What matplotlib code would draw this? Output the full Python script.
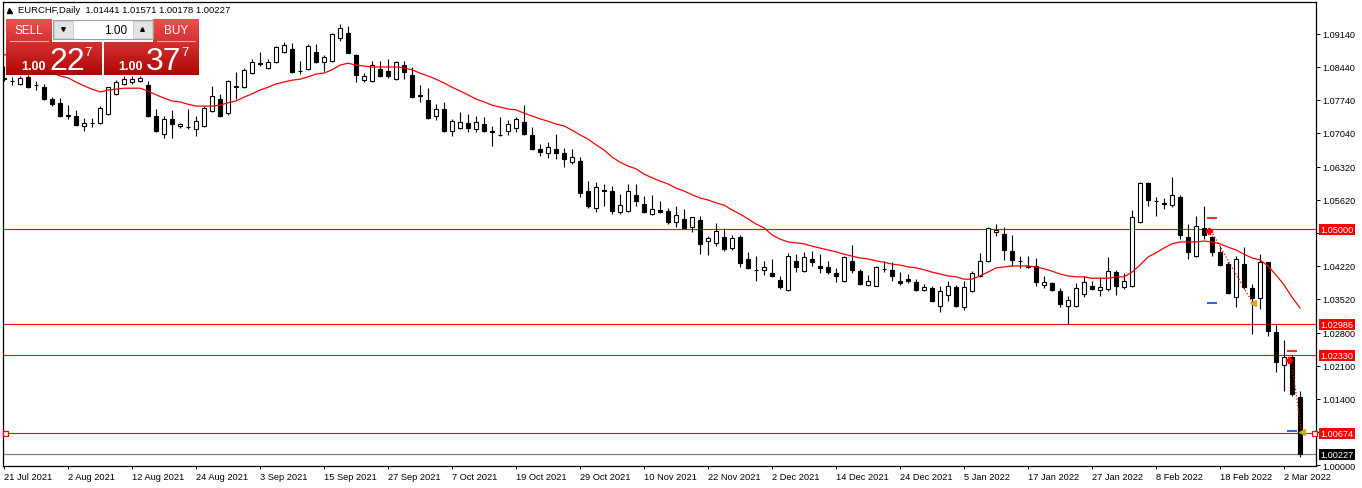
import numpy as np
import matplotlib
matplotlib.use("Agg")
import matplotlib.pyplot as plt
from matplotlib.transforms import blended_transform_factory
from matplotlib.patches import Rectangle

plt.rcParams['font.family'] = ['Liberation Sans', 'DejaVu Sans']

# ---------------- data ----------------
symbol = "EURCHF,Daily"
header_ohlc = "1.01441 1.01571 1.00178 1.00227"

date_labels = ["21 Jul 2021", "2 Aug 2021", "12 Aug 2021", "24 Aug 2021", "3 Sep 2021",
               "15 Sep 2021", "27 Sep 2021", "7 Oct 2021", "19 Oct 2021", "29 Oct 2021",
               "10 Nov 2021", "22 Nov 2021", "2 Dec 2021", "14 Dec 2021", "24 Dec 2021",
               "5 Jan 2022", "17 Jan 2022", "27 Jan 2022", "8 Feb 2022", "18 Feb 2022",
               "2 Mar 2022"]
date_label_bars = [0, 8, 16, 24, 32, 40, 48, 56, 64, 72, 80, 88, 96, 104, 112,
                   120, 128, 136, 144, 152, 160]

price_ticks = [1.09140, 1.08440, 1.07740, 1.07040, 1.06320, 1.05620, 1.04920,
               1.04220, 1.03520, 1.02800, 1.02100, 1.01400, 1.00700, 1.00000]
# tick labels hidden behind the level boxes in the reference
hidden_tick_labels = [1.04920, 1.00700]

level_lines = [1.05000, 1.02986, 1.02330, 1.00674]
bid_price = 1.00227

opens = [1.0821, 1.0814, 1.0808, 1.0823, 1.0806, 1.0801, 1.0776, 1.0768, 1.0742, 1.0740,
         1.0719, 1.0725, 1.0725, 1.0744, 1.0787, 1.0808, 1.0812, 1.0814, 1.0806, 1.0740,
         1.0702, 1.0734, 1.0719, 1.0717, 1.0712, 1.0719, 1.0751, 1.0776, 1.0746, 1.0801,
         1.0801, 1.0831, 1.0852, 1.0842, 1.0854, 1.0876, 1.0882, 1.0835, 1.0840, 1.0876,
         1.0854, 1.0857, 1.0905, 1.0916, 1.0869, 1.0816, 1.0814, 1.0840, 1.0835, 1.0818,
         1.0848, 1.0827, 1.0785, 1.0774, 1.0740, 1.0755, 1.0708, 1.0715, 1.0725, 1.0712,
         1.0723, 1.0708, 1.0700, 1.0708, 1.0715, 1.0727, 1.0700, 1.0670, 1.0662, 1.0670,
         1.0662, 1.0642, 1.0645, 1.0581, 1.0545, 1.0583, 1.0581, 1.0536, 1.0539, 1.0572,
         1.0553, 1.0532, 1.0541, 1.0539, 1.0515, 1.0522, 1.0505, 1.0520, 1.0475, 1.0471,
         1.0483, 1.0460, 1.0483, 1.0437, 1.0414, 1.0414, 1.0407, 1.0392, 1.0371, 1.0433,
         1.0411, 1.0437, 1.0422, 1.0420, 1.0407, 1.0390, 1.0433, 1.0411, 1.0382, 1.0380,
         1.0416, 1.0414, 1.0390, 1.0394, 1.0388, 1.0371, 1.0375, 1.0337, 1.0361, 1.0377,
         1.0335, 1.0369, 1.0401, 1.0433, 1.0494, 1.0490, 1.0454, 1.0433, 1.0420, 1.0422,
         1.0382, 1.0386, 1.0369, 1.0337, 1.0337, 1.0363, 1.0380, 1.0371, 1.0373, 1.0409,
         1.0377, 1.0380, 1.0515, 1.0598, 1.0560, 1.0555, 1.0551, 1.0568, 1.0483, 1.0443,
         1.0502, 1.0483, 1.0452, 1.0426, 1.0356, 1.0426, 1.0375, 1.0354, 1.0430, 1.0282,
         1.0212, 1.0229, 1.01441]

highs = [1.0846, 1.0823, 1.0825, 1.0827, 1.0814, 1.0808, 1.0780, 1.0778, 1.0763, 1.0753,
         1.0736, 1.0736, 1.0761, 1.0802, 1.0816, 1.0825, 1.0825, 1.0825, 1.0814, 1.0755,
         1.0740, 1.0753, 1.0725, 1.0755, 1.0740, 1.0761, 1.0804, 1.0787, 1.0816, 1.0833,
         1.0842, 1.0861, 1.0876, 1.0861, 1.0888, 1.0897, 1.0895, 1.0857, 1.0893, 1.0893,
         1.0869, 1.0916, 1.0935, 1.0931, 1.0871, 1.0831, 1.0857, 1.0857, 1.0861, 1.0857,
         1.0857, 1.0844, 1.0806, 1.0799, 1.0765, 1.0770, 1.0734, 1.0748, 1.0744, 1.0740,
         1.0738, 1.0719, 1.0738, 1.0732, 1.0738, 1.0763, 1.0717, 1.0681, 1.0685, 1.0702,
         1.0672, 1.0670, 1.0653, 1.0602, 1.0600, 1.0596, 1.0592, 1.0575, 1.0596, 1.0596,
         1.0570, 1.0572, 1.0560, 1.0545, 1.0549, 1.0543, 1.0526, 1.0528, 1.0486, 1.0513,
         1.0502, 1.0488, 1.0488, 1.0452, 1.0443, 1.0433, 1.0437, 1.0401, 1.0450, 1.0447,
         1.0452, 1.0454, 1.0447, 1.0433, 1.0418, 1.0443, 1.0466, 1.0416, 1.0403, 1.0422,
         1.0433, 1.0430, 1.0409, 1.0405, 1.0394, 1.0384, 1.0379, 1.0380, 1.0390, 1.0382,
         1.0390, 1.0411, 1.0450, 1.0505, 1.0511, 1.0505, 1.0488, 1.0443, 1.0443, 1.0439,
         1.0401, 1.0387, 1.0375, 1.0358, 1.0386, 1.0401, 1.0390, 1.0399, 1.0441, 1.0413,
         1.0407, 1.0541, 1.0600, 1.0600, 1.0568, 1.0566, 1.0611, 1.0572, 1.0511, 1.0528,
         1.0549, 1.0486, 1.0464, 1.0430, 1.0443, 1.0462, 1.0384, 1.0447, 1.0431, 1.0297,
         1.0265, 1.0233, 1.01571]

lows = [1.0814, 1.0806, 1.0806, 1.0799, 1.0795, 1.0774, 1.0761, 1.0738, 1.0734, 1.0719,
        1.0708, 1.0717, 1.0723, 1.0743, 1.0785, 1.0806, 1.0808, 1.0812, 1.0738, 1.0706,
        1.0693, 1.0693, 1.0715, 1.0712, 1.0698, 1.0717, 1.0748, 1.0738, 1.0742, 1.0776,
        1.0799, 1.0829, 1.0846, 1.0840, 1.0852, 1.0873, 1.0831, 1.0829, 1.0837, 1.0852,
        1.0835, 1.0854, 1.0899, 1.0873, 1.0812, 1.0812, 1.0812, 1.0823, 1.0820, 1.0816,
        1.0818, 1.0778, 1.0770, 1.0734, 1.0732, 1.0706, 1.0698, 1.0712, 1.0706, 1.0706,
        1.0706, 1.0676, 1.0698, 1.0700, 1.0706, 1.0700, 1.0668, 1.0655, 1.0651, 1.0649,
        1.0632, 1.0638, 1.0568, 1.0545, 1.0536, 1.0549, 1.0532, 1.0532, 1.0536, 1.0549,
        1.0534, 1.0530, 1.0534, 1.0511, 1.0505, 1.0500, 1.0494, 1.0447, 1.0445, 1.0464,
        1.0454, 1.0456, 1.0420, 1.0416, 1.0390, 1.0403, 1.0399, 1.0373, 1.0369, 1.0409,
        1.0409, 1.0422, 1.0407, 1.0405, 1.0388, 1.0389, 1.0407, 1.0382, 1.0380, 1.0379,
        1.0409, 1.0390, 1.0382, 1.0386, 1.0369, 1.0369, 1.0346, 1.0324, 1.0348, 1.0335,
        1.0329, 1.0367, 1.0399, 1.0430, 1.0486, 1.0435, 1.0422, 1.0418, 1.0418, 1.0380,
        1.0375, 1.0370, 1.0335, 1.0299, 1.0336, 1.0356, 1.0371, 1.0358, 1.0369, 1.0361,
        1.0373, 1.0377, 1.0513, 1.0549, 1.0528, 1.0543, 1.0547, 1.0479, 1.0437, 1.0441,
        1.0479, 1.0443, 1.0422, 1.0362, 1.0335, 1.0373, 1.0278, 1.0331, 1.0274, 1.0197,
        1.0157, 1.0146, 1.00178]

closes = [1.0818, 1.0815, 1.0820, 1.0801, 1.0805, 1.0776, 1.0765, 1.0740, 1.0741, 1.0721,
          1.0725, 1.0726, 1.0757, 1.0801, 1.0812, 1.0818, 1.0818, 1.0820, 1.0740, 1.0708,
          1.0734, 1.0723, 1.0723, 1.0716, 1.0729, 1.0757, 1.0782, 1.0740, 1.0814, 1.0804,
          1.0837, 1.0854, 1.0851, 1.0854, 1.0886, 1.0891, 1.0833, 1.0836, 1.0888, 1.0854,
          1.0865, 1.0914, 1.0926, 1.0874, 1.0827, 1.0825, 1.0848, 1.0825, 1.0825, 1.0854,
          1.0833, 1.0780, 1.0782, 1.0736, 1.0755, 1.0708, 1.0729, 1.0727, 1.0715, 1.0727,
          1.0708, 1.0707, 1.0699, 1.0723, 1.0734, 1.0702, 1.0670, 1.0664, 1.0674, 1.0662,
          1.0649, 1.0653, 1.0577, 1.0549, 1.0589, 1.0582, 1.0539, 1.0551, 1.0581, 1.0560,
          1.0536, 1.0543, 1.0536, 1.0515, 1.0530, 1.0502, 1.0526, 1.0469, 1.0481, 1.0496,
          1.0458, 1.0481, 1.0428, 1.0418, 1.0413, 1.0420, 1.0401, 1.0377, 1.0443, 1.0420,
          1.0441, 1.0430, 1.0418, 1.0409, 1.0401, 1.0441, 1.0414, 1.0383, 1.0390, 1.0420,
          1.0415, 1.0401, 1.0386, 1.0390, 1.0371, 1.0377, 1.0348, 1.0369, 1.0380, 1.0337,
          1.0377, 1.0407, 1.0433, 1.0502, 1.0498, 1.0456, 1.0435, 1.0432, 1.0422, 1.0388,
          1.0388, 1.0371, 1.0341, 1.0350, 1.0375, 1.0388, 1.0373, 1.0377, 1.0411, 1.0380,
          1.0390, 1.0526, 1.0598, 1.0562, 1.0559, 1.0554, 1.0572, 1.0488, 1.0452, 1.0507,
          1.0488, 1.0452, 1.0424, 1.0364, 1.0437, 1.0377, 1.0354, 1.0430, 1.0284, 1.0218,
          1.0229, 1.0151, 1.00227]

ma_line = [1.0871, 1.0863, 1.0854, 1.0848, 1.0842, 1.0835, 1.0831, 1.0825, 1.0821, 1.0812,
           1.0804, 1.0797, 1.0791, 1.0795, 1.0797, 1.0799, 1.0799, 1.0799, 1.0793, 1.0785,
           1.0778, 1.0772, 1.0770, 1.0765, 1.0761, 1.0761, 1.0761, 1.0763, 1.0768, 1.0772,
           1.0780, 1.0787, 1.0795, 1.0801, 1.0808, 1.0812, 1.0816, 1.0818, 1.0823, 1.0829,
           1.0831, 1.0838, 1.0848, 1.0852, 1.0848, 1.0846, 1.0844, 1.0844, 1.0844, 1.0844,
           1.0842, 1.0838, 1.0831, 1.0825, 1.0818, 1.0810, 1.0801, 1.0793, 1.0785, 1.0776,
           1.0770, 1.0763, 1.0759, 1.0755, 1.0753, 1.0746, 1.0740, 1.0734, 1.0729, 1.0723,
           1.0719, 1.0710, 1.0700, 1.0691, 1.0679, 1.0668, 1.0653, 1.0642, 1.0634, 1.0628,
           1.0617, 1.0609, 1.0602, 1.0596, 1.0587, 1.0581, 1.0573, 1.0566, 1.0562, 1.0556,
           1.0551, 1.0541, 1.0532, 1.0522, 1.0511, 1.0503, 1.0488, 1.0479, 1.0473, 1.0471,
           1.0469, 1.0464, 1.0460, 1.0456, 1.0452, 1.0447, 1.0443, 1.0439, 1.0437, 1.0433,
           1.0430, 1.0426, 1.0424, 1.0420, 1.0418, 1.0414, 1.0409, 1.0405, 1.0401, 1.0399,
           1.0394, 1.0394, 1.0401, 1.0409, 1.0418, 1.0420, 1.0422, 1.0422, 1.0422, 1.0420,
           1.0416, 1.0411, 1.0405, 1.0401, 1.0399, 1.0399, 1.0396, 1.0396, 1.0396, 1.0399,
           1.0399, 1.0409, 1.0424, 1.0441, 1.0450, 1.0460, 1.0469, 1.0473, 1.0473, 1.0473,
           1.0475, 1.0473, 1.0469, 1.0462, 1.0456, 1.0447, 1.0439, 1.0435, 1.0422, 1.0403,
           1.0382, 1.0356, 1.0333]

# trade markers (bar position, price)
entry_bars = [150.6, 160.6]
entry_prices = [1.0496, 1.0223]
exit_bars = [156.1, 162.2]
exit_prices = [1.0343, 1.0070]
sl_bars = [151.0, 161.0]
sl_prices = [1.0524, 1.0242]
tp_bars = [151.0, 161.0]
tp_prices = [1.0344, 1.0072]

# ---------------- figure ----------------
W, H = 1362, 489
fig = plt.figure(figsize=(W / 100, H / 100), dpi=100)
fig.patch.set_facecolor('white')

left_px, right_px, top_px, bot_px = 3, 1316, 3, 467
ax = fig.add_axes([left_px / W, (H - bot_px) / H, (right_px - left_px) / W, (bot_px - top_px) / H])
ax.set_facecolor('white')

o = np.array(opens); h = np.array(highs); l = np.array(lows); c = np.array(closes)
x = np.arange(len(o))

ax.vlines(x, l, h, color='black', lw=0.8, zorder=3)
up = c >= o
bottoms = np.minimum(o, c)
heights = np.maximum(np.abs(c - o), 0.00003)
ax.bar(x[up], heights[up], bottom=bottoms[up], width=0.62, facecolor='white',
       edgecolor='black', linewidth=0.8, zorder=4)
ax.bar(x[~up], heights[~up], bottom=bottoms[~up], width=0.62, facecolor='black',
       edgecolor='black', linewidth=0.8, zorder=4)

ax.plot(x, ma_line, color='red', lw=0.9, zorder=5)

for lv in level_lines:
    ax.axhline(lv, color='red', lw=0.8, zorder=2)
ax.axhline(bid_price, color='#7a8793', lw=0.9, zorder=2)

# end squares of the 1.00674 level
ax.plot([0.16, 163.7], [level_lines[3], level_lines[3]], ls='none', marker='s', ms=3.6,
        mfc='white', mec='red', mew=0.9, zorder=6, clip_on=False)

# trade markers
for eb, ep, xb, xp in zip(entry_bars, entry_prices, exit_bars, exit_prices):
    ax.plot([eb + 0.3, xb], [ep, xp], color='red', lw=0.9, ls=(0, (1, 1.6)), zorder=6)
ax.plot(entry_bars, entry_prices, ls='none', marker='P', ms=5, color='red', mec='red', zorder=7)
ax.plot(exit_bars, exit_prices, ls='none', marker='<', ms=5, color='#d9a520', mec='#d9a520', zorder=7)
ax.plot(sl_bars, sl_prices, ls='none', marker='_', ms=7, mew=1.2, color='red', zorder=7)
ax.plot(tp_bars, tp_prices, ls='none', marker='_', ms=7, mew=1.2, color='#1a3cff', zorder=7)

ax.set_xlim((left_px - 4) / 8, (right_px - 4) / 8)
ax.set_ylim(1 + (466 - bot_px) / 4716, 1 + (466 - top_px) / 4716)

ax.set_xticks(date_label_bars)
ax.set_xticklabels(date_labels, ha='left')
ax.tick_params(axis='x', length=2.4, width=0.7, pad=1.6, labelsize=6.7, direction='out')
ax.yaxis.tick_right()
ax.set_yticks(price_ticks)
ax.set_yticklabels(["" if t in hidden_tick_labels else f"{t:.5f}" for t in price_ticks])
ax.tick_params(axis='y', length=3, width=0.7, pad=1.8, labelsize=6.6, direction='out')
for sp in ax.spines.values():
    sp.set_color('black')
    sp.set_linewidth(0.9)

tr = blended_transform_factory(ax.transAxes, ax.transData)
xlab = 1 + 4.5 / (right_px - left_px)
for lv in level_lines:
    ax.text(xlab, lv, f"{lv:.5f}", transform=tr, ha='left', va='center', fontsize=6.6,
            color='white', zorder=10, clip_on=False,
            bbox=dict(boxstyle='square,pad=0.12', fc='#ff0000', ec='none'))
ax.text(xlab, bid_price, f"{bid_price:.5f}", transform=tr, ha='left', va='center', fontsize=6.6,
        color='white', zorder=10, clip_on=False,
        bbox=dict(boxstyle='square,pad=0.12', fc='black', ec='none'))

# ---------------- overlay: header + one-click panel ----------------
ov = fig.add_axes([0, 0, 1, 1], zorder=20)
ov.set_xlim(0, W); ov.set_ylim(H, 0); ov.axis('off')
ov.patch.set_alpha(0)

ov.plot(9, 10.5, marker='^', ms=3.6, color='black')
ov.text(18, 10.5, f"{symbol}  {header_ohlc}", ha='left', va='center', fontsize=6.8, color='black')

c_top = np.array([0.93, 0.31, 0.31]); c_bot = np.array([0.69, 0.02, 0.02])

def grad_rect(x0, y0, x1, y1, ytop=20, ybot=76):
    ys = np.linspace(y0, y1, 48)
    t = ((ys - ytop) / (ybot - ytop)).clip(0, 1)[:, None]
    img = (c_top * (1 - t) + c_bot * t)[:, None, :]
    ov.imshow(img, extent=(x0, x1, y1, y0), aspect='auto', interpolation='bilinear', zorder=1)

grad_rect(6, 20, 52, 43)
grad_rect(6, 43, 102, 76)
grad_rect(153, 20, 199, 43)
grad_rect(104, 43, 199, 76)
ov.plot([10, 48], [42, 42], color=(0.97, 0.66, 0.66), lw=0.8, zorder=2)
ov.plot([157, 195], [42, 42], color=(0.97, 0.66, 0.66), lw=0.8, zorder=2)

ov.add_patch(Rectangle((52.5, 20.5), 100, 19, fc='white', ec=(0.62, 0.62, 0.62), lw=0.8, zorder=2))
ov.add_patch(Rectangle((53.5, 21.5), 19, 17, fc=(0.89, 0.89, 0.89), ec=(0.78, 0.78, 0.78), lw=0.6, zorder=3))
ov.add_patch(Rectangle((132.5, 21.5), 19, 17, fc=(0.89, 0.89, 0.89), ec=(0.78, 0.78, 0.78), lw=0.6, zorder=3))
ov.plot(63, 30, marker='v', ms=2.6, color='black', zorder=4)
ov.plot(142, 30, marker='^', ms=2.6, color='black', zorder=4)
ov.text(127, 30.5, "1.00", ha='right', va='center', fontsize=8.5, color='black', zorder=4)

ov.text(29, 31, "SELL", ha='center', va='center', fontsize=8.5, color='white', zorder=4)
ov.text(176, 31, "BUY", ha='center', va='center', fontsize=8.5, color='white', zorder=4)

ov.text(21, 69.5, "1.00", ha='left', va='baseline', fontsize=9, fontweight='bold', color='white', zorder=4)
ov.text(49, 70, "22", ha='left', va='baseline', fontsize=23, color='white', zorder=4)
ov.text(84, 56, "7", ha='left', va='baseline', fontsize=9.5, color='white', zorder=4)
ov.text(118, 69.5, "1.00", ha='left', va='baseline', fontsize=9, fontweight='bold', color='white', zorder=4)
ov.text(146, 70, "37", ha='left', va='baseline', fontsize=23, color='white', zorder=4)
ov.text(181, 56, "7", ha='left', va='baseline', fontsize=9.5, color='white', zorder=4)

ov.set_xlim(0, W); ov.set_ylim(H, 0)

fig.savefig("out.png", dpi=100, facecolor='white')
